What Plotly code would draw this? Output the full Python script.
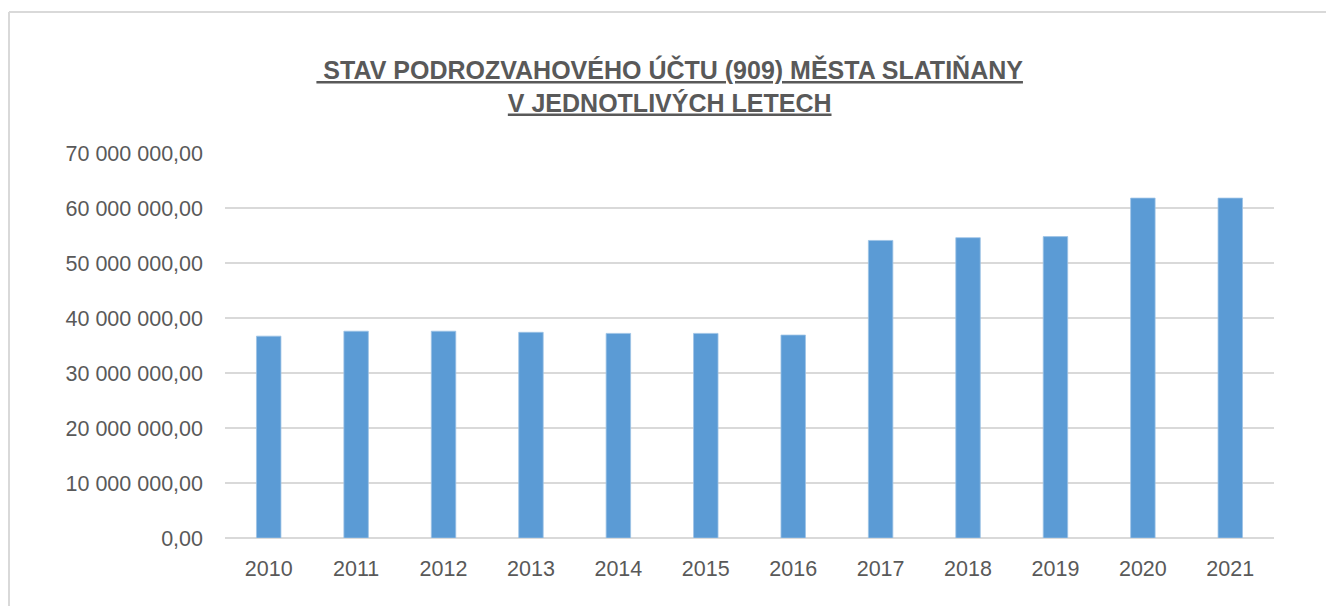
import plotly.graph_objects as go

years = ["2010", "2011", "2012", "2013", "2014", "2015", "2016", "2017", "2018", "2019", "2020", "2021"]
values = [36.7e6, 37.6e6, 37.6e6, 37.4e6, 37.2e6, 37.2e6, 36.9e6, 54.1e6, 54.6e6, 54.8e6, 61.8e6, 61.8e6]
tick_vals = [0, 10e6, 20e6, 30e6, 40e6, 50e6, 60e6, 70e6]
tick_text = ["0,00", "10 000 000,00", "20 000 000,00", "30 000 000,00", "40 000 000,00",
             "50 000 000,00", "60 000 000,00", "70 000 000,00"]
title_text = "<b><u> STAV PODROZVAHOVÉHO ÚČTU (909) MĚSTA SLATIŇANY</u></b><br><b><u>V JEDNOTLIVÝCH LETECH</u></b>"

# page has an 8px body margin, so the figure is offset by 8px
W, H = 1326, 598
L, R, T, B = 217, 60, 145, 68
pw, ph = W - L - R, H - T - B

fig = go.Figure(go.Bar(
    x=years, y=values, width=0.28,
    marker=dict(color="#5B9BD5", line=dict(color="#9DC3E6", width=0.8)),
))

bx = (0 + 1 - L) / pw
by = (H - B - 4) / ph
fig.add_shape(type="line", xref="paper", yref="paper", x0=bx, x1=2, y0=by, y1=by,
              line=dict(color="#D9D9D9", width=2))
fig.add_shape(type="line", xref="paper", yref="paper", x0=bx, x1=bx, y0=by, y1=-1,
              line=dict(color="#D9D9D9", width=2))

fig.update_layout(
    width=W, height=H,
    margin=dict(l=L, r=R, t=T, b=B),
    paper_bgcolor="white", plot_bgcolor="white",
    showlegend=False,
    title=dict(text=title_text, x=0.499, xanchor="center", y=1 - 71 / H, yanchor="top",
               yref="container",
               font=dict(family="Liberation Sans Narrow, Arial Narrow, sans-serif", size=25, color="#595959")),
    font=dict(family="Liberation Sans, Arial, sans-serif", color="#595959"),
    xaxis=dict(showgrid=False, showline=False, tickfont=dict(size=21.5, color="#595959"),
               ticks="", ticklabelstandoff=15),
    yaxis=dict(range=[0, 70e6], tickvals=tick_vals, ticktext=tick_text,
               showgrid=True, gridcolor="#D9D9D9", gridwidth=2,
               zeroline=True, zerolinecolor="#D9D9D9", zerolinewidth=2,
               showline=False, ticks="", ticklabelstandoff=21,
               tickfont=dict(size=21.5, color="#595959")),
)

fig.write_html("out.html")
